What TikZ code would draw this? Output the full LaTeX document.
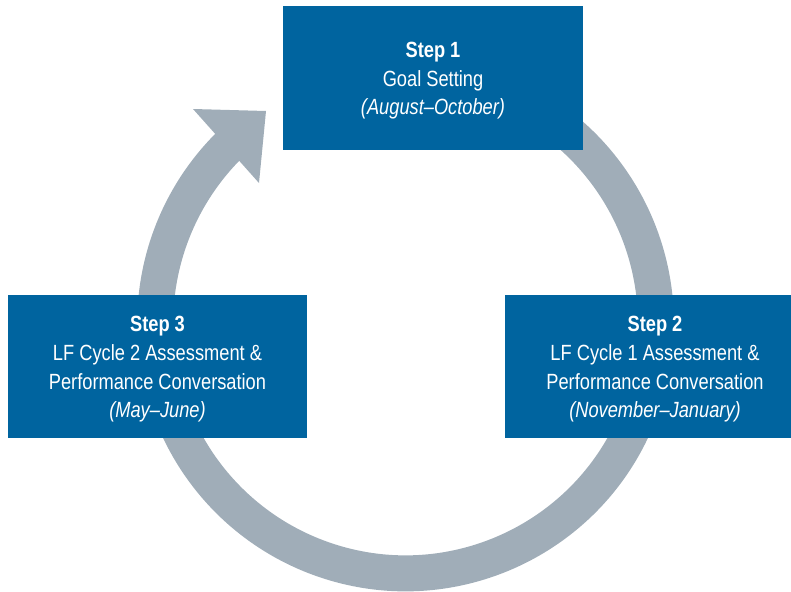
\documentclass[tikz,border=0pt]{standalone}
\usepackage{fontspec}
\setmainfont{Liberation Sans}[FakeStretch=0.83]
\definecolor{boxblue}{HTML}{00649F}
\definecolor{ringgrey}{HTML}{A0ADB8}
\newcommand{\topstrut}{\rule{0pt}{21pt}}
\begin{document}
\begin{tikzpicture}[x=1pt,y=1pt,
  stepbox/.style={fill=boxblue, text=white, align=center, inner sep=0pt,
    font=\fontsize{22}{28.7}\selectfont},
  ring/.style={draw=ringgrey, line width=36pt, line cap=butt}]
\useasboundingbox (0,0) rectangle (791,-591);
\clip (0,0) rectangle (791,-591);
\coordinate (c) at (405.5,-323);
% ring
\draw[ring] (c) ++(70:250.3pt) arc[start angle=70, end angle=-225, radius=250.3pt];
% arrowhead
\fill[ringgrey] (193,-109) -- (266,-111) -- (259,-183) -- cycle;
% boxes
\node[stepbox, minimum width=300pt, minimum height=144pt] (s1) at (433,-78)
  {\topstrut\textbf{Step 1}\\Goal Setting\\\textit{(August–October)}};
\node[stepbox, minimum width=299pt, minimum height=143pt] (s3) at (157.5,-366.5)
  {\topstrut\textbf{Step 3}\\LF Cycle 2 Assessment \&\\Performance Conversation\\\textit{(May–June)}};
\node[stepbox, minimum width=300pt, minimum height=143pt] (s2) at (655,-366.5)
  {\topstrut\textbf{Step 2}\\LF Cycle 1 Assessment \&\\Performance Conversation\\\textit{(November–January)}};
\end{tikzpicture}
\end{document}
